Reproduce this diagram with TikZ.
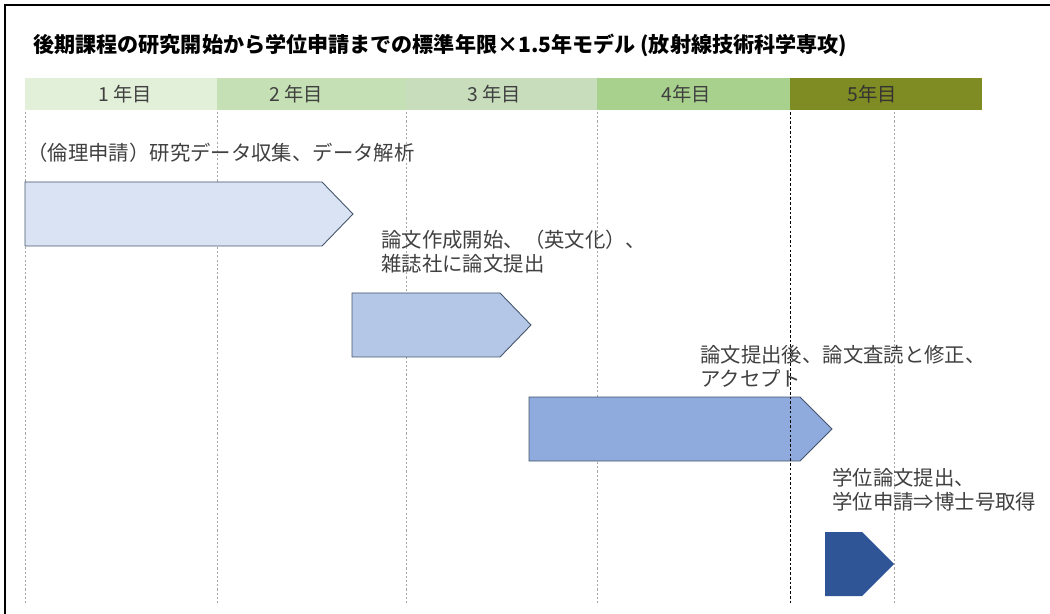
\documentclass[tikz,border=0pt]{standalone}
\usepackage{fontspec}
\newfontfamily\jpfont{Noto Sans CJK JP}
\usepackage{tikz}
\usetikzlibrary{positioning}

\definecolor{yrA}{HTML}{E2F0D9}
\definecolor{yrB}{HTML}{C5E0B4}
\definecolor{yrC}{HTML}{C8DDBC}
\definecolor{yrD}{HTML}{A9D18E}
\definecolor{yrE}{HTML}{7E8C23}
\definecolor{phA}{HTML}{DAE3F3}
\definecolor{phB}{HTML}{B4C7E7}
\definecolor{phC}{HTML}{8FAADC}
\definecolor{phD}{HTML}{2F5597}
\definecolor{edge}{HTML}{44546A}
\definecolor{ink}{HTML}{404040}

\begin{document}
\begin{tikzpicture}[
        x=0.02cm, y=-0.02cm,
        yearlabel/.style = {
            font=\jpfont\fontsize{11}{13}\selectfont,
            text=ink,
            inner sep = 0pt
        },
        note/.style = {
            font=\jpfont\fontsize{11.6}{13.6}\selectfont,
            text=ink,
            align=left,
            anchor=west,
            inner sep = 0pt
        },
        guide/.style = {
            gray!70,
            line width = 0.5pt,
            dash pattern = on 1.2pt off 1.2pt
        },
        phase/.style = {
            draw=edge,
            line width = 0.5pt
        }
        ]
%
        \useasboundingbox (0,0) rectangle (1050,614);
        \draw[line width=1.1pt] (5,614) -- (5,5) -- (1050,5);
%
        \node[font=\jpfont\bfseries\fontsize{12}{14}\selectfont, anchor=west, inner sep=0pt] (title) at (33,45)
            {後期課程の研究開始から学位申請までの標準年限×1.5年モデル (放射線技術科学専攻)};
%
% year bar
        \fill[yrA] (25,78) rectangle (217,110);
        \fill[yrB] (217,78) rectangle (406,110);
        \fill[yrC] (406,78) rectangle (597,110);
        \fill[yrD] (597,78) rectangle (790,110);
        \fill[yrE] (790,78) rectangle (982,110);
%
        \node[yearlabel] (y1) at (125,94) {1 年目};
        \node[yearlabel] (y2) at (296,94) {2 年目};
        \node[yearlabel] (y3) at (494,94) {3 年目};
        \node[yearlabel] (y4) at (686,94) {4年目};
        \node[yearlabel, text=black!80] (y5) at (872,94) {5年目};
%
% guides under the phases
        \foreach \gx in {25,217,406,597} {
            \draw[guide] (\gx,112) -- (\gx,605);
        }
%
% phases
        \draw[phase, fill=phA] (25,182) -- (322,182) -- (353,214) -- (322,246) -- (25,246) -- cycle;
        \draw[phase, fill=phB] (352,293) -- (500,293) -- (531,325) -- (500,357) -- (352,357) -- cycle;
        \draw[phase, fill=phC] (529,397) -- (800,397) -- (832,429) -- (800,461) -- (529,461) -- cycle;
        \fill[phD] (825,532) -- (862,532) -- (894,564) -- (862,596) -- (825,596) -- cycle;
%
% guides over the phases
        \draw[line width=0.5pt, dash pattern=on 1.5pt off 1.2pt] (790,112) -- (790,605);
        \draw[guide] (894,112) -- (894,605);
%
        \node[note] (n1) at (27,153) {（倫理申請）研究データ収集、データ解析};
        \node[note] (n2) at (381,252) {論文作成開始、（英文化）、\\雑誌社に論文提出};
        \node[note] (n3) at (700,366) {論文提出後、論文査読と修正、\\アクセプト};
        \node[note] (n4) at (832,490) {学位論文提出、\\学位申請⇒博士号取得};
%
    \end{tikzpicture}
\end{document}
